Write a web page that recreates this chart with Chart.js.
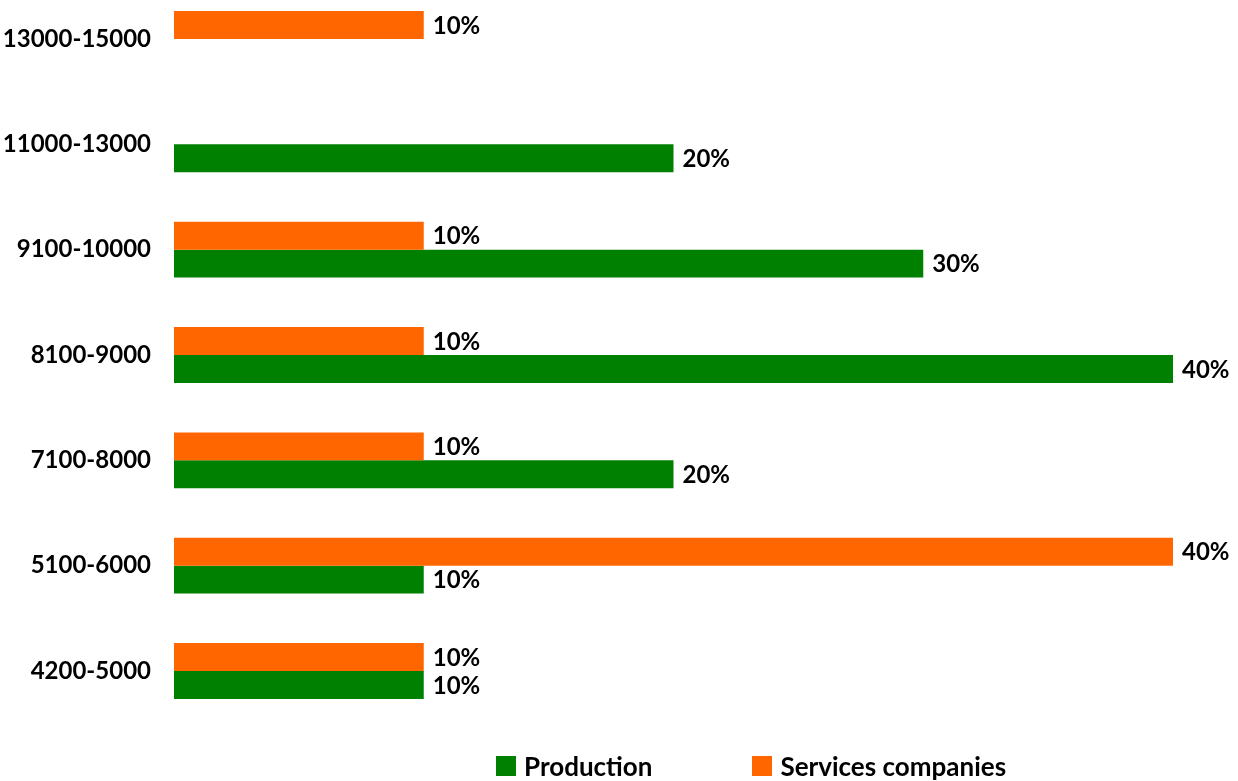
<!DOCTYPE html>
<html>
<head>
<meta charset="utf-8">
<script src="https://cdn.jsdelivr.net/npm/chart.js@4"></script>
<style>
  body { margin: 0; background: #fff; overflow: hidden; }
  #wrap { position: relative; width: 1238px; height: 781px; }
  #legend { position: absolute; left: 496px; top: 750px; display: flex; font: bold 26px Lato, sans-serif; color: #000; }
  #legend span.item { display: flex; align-items: center; margin-right: 100px; }
  #legend span.box { display: inline-block; width: 20px; height: 20px; margin-right: 8px; }
</style>
</head>
<body>
<div id="wrap">
  <canvas id="salaryChart" width="1238" height="781"></canvas>
  <div id="legend"></div>
</div>
<script>
const ctx = document.getElementById('salaryChart');

// salary ranges, top to bottom
const categories = ['13000-15000', '11000-13000', '9100-10000', '8100-9000', '7100-8000', '5100-6000', '4200-5000'];
const productionValues = [null, 20, 30, 40, 20, 10, 10];
const servicesValues = [10, null, 10, 10, 10, 40, 10];
const xTicks = [0, 10, 20, 30, 40];

const green = '#008000';
const orange = '#FF6600';

// percent labels at the end of each bar
const barLabels = {
  id: 'barLabels',
  afterDatasetsDraw(chart) {
    const c = chart.ctx;
    c.save();
    c.font = 'bold 24px Lato, sans-serif';
    c.fillStyle = '#000';
    c.textAlign = 'left';
    c.textBaseline = 'middle';
    chart.data.datasets.forEach((ds, i) => {
      const meta = chart.getDatasetMeta(i);
      meta.data.forEach((bar, j) => {
        const v = ds.data[j];
        if (v === null) return;
        c.fillText(v + '%', bar.x + 9, bar.y + 1);
      });
    });
    c.restore();
  }
};

const chart = new Chart(ctx, {
  type: 'bar',
  data: {
    labels: categories,
    datasets: [
      { label: 'Services companies', data: servicesValues, backgroundColor: orange, clip: false },
      { label: 'Production', data: productionValues, backgroundColor: green, clip: false }
    ]
  },
  options: {
    indexAxis: 'y',
    responsive: false,
    animation: false,
    categoryPercentage: 0.53,
    barPercentage: 1,
    layout: { padding: { top: 39, bottom: 110, left: 0, right: 65 } },
    scales: {
      x: {
        display: false,
        min: xTicks[0],
        max: xTicks[xTicks.length - 1]
      },
      y: {
        offset: false,
        grid: { display: false, drawTicks: false },
        border: { display: false },
        ticks: {
          padding: 23,
          color: '#000',
          font: { family: 'Lato, sans-serif', size: 24, weight: 'bold' }
        },
        afterFit(scale) { scale.width = 174; }
      }
    },
    plugins: {
      legend: { display: false },
      tooltip: { enabled: false }
    }
  },
  plugins: [barLabels]
});

// legend below the chart, Production first
const legendEl = document.getElementById('legend');
[chart.data.datasets[1], chart.data.datasets[0]].forEach(ds => {
  const item = document.createElement('span');
  item.className = 'item';
  const box = document.createElement('span');
  box.className = 'box';
  box.style.background = ds.backgroundColor;
  item.appendChild(box);
  item.appendChild(document.createTextNode(ds.label));
  legendEl.appendChild(item);
});
</script>
</body>
</html>
